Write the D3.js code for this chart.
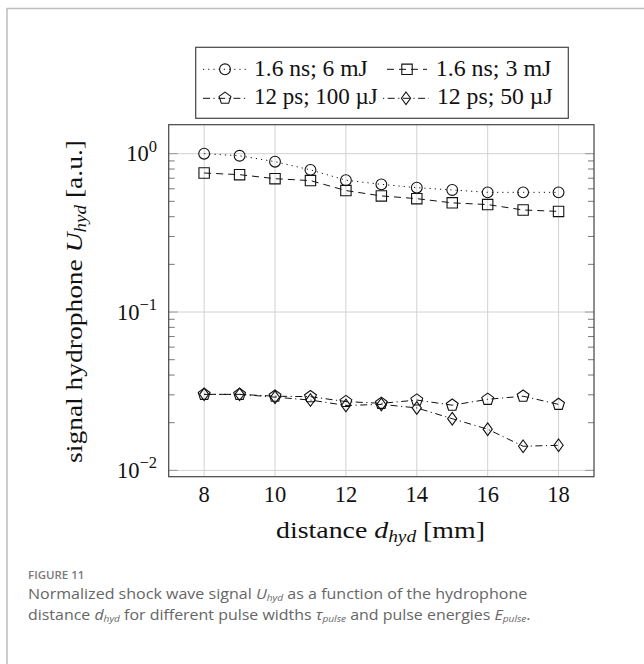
<!DOCTYPE html>
<html>
<head>
<meta charset="utf-8">
<script src="https://cdn.jsdelivr.net/npm/d3@7"></script>
<style>
  html, body { margin: 0; padding: 0; background: #fff; }
  svg { display: block; }
</style>
</head>
<body>
<script>
// ---------- data ----------
const distances = [8, 9, 10, 11, 12, 13, 14, 15, 16, 17, 18];
const ns6mJ   = [1.0, 0.97, 0.89, 0.79, 0.68, 0.64, 0.61, 0.59, 0.57, 0.57, 0.57];
const ns3mJ   = [0.755, 0.737, 0.695, 0.676, 0.585, 0.541, 0.52, 0.489, 0.477, 0.441, 0.432];
const ps100uJ = [0.0302, 0.0302, 0.0294, 0.0292, 0.0272, 0.0265, 0.0278, 0.0258, 0.0281, 0.0294, 0.0261];
const ps50uJ  = [0.0302, 0.0302, 0.0290, 0.0278, 0.0257, 0.0261, 0.0248, 0.0212, 0.0182, 0.0142, 0.0144];
const seriesLabels = ["1.6 ns; 6 mJ", "1.6 ns; 3 mJ", "12 ps; 100 µJ", "12 ps; 50 µJ"];
const xTicks = [8, 10, 12, 14, 16, 18];
const yTickExps = [0, -1, -2];

// ---------- layout ----------
const W = 644, H = 664;
const P = { left: 168.7, right: 594, top: 124.7, bottom: 476.7 };
const serif = "'Liberation Serif', 'Times New Roman', serif";
const sans = "'Open Sans', 'Noto Sans', sans-serif";

const svg = d3.select("body").append("svg").attr("width", W).attr("height", H);

// stretch a text horizontally around an anchor x so that it spans a target width
function fitX(sel, ax, target) {
  const w = sel.node().getBBox().width;
  const s = target / w;
  sel.attr("transform", `translate(${ax},0) scale(${s},1) translate(${-ax},0)`);
}

// outer frame (top + left)
svg.append("path").attr("d", `M7,664 V8.5 H644`).attr("fill", "none")
  .attr("stroke", "#bdbdbd").attr("stroke-width", 1.5);

const x = d3.scaleLinear().domain([7, 19]).range([P.left, P.right]);
const y = d3.scaleLog().domain([Math.pow(10, -2.040), Math.pow(10, 0.183)]).range([P.bottom, P.top]);

const g = svg.append("g");

// grid
g.selectAll(".gx").data(xTicks).join("line")
  .attr("x1", d => x(d)).attr("x2", d => x(d)).attr("y1", P.top).attr("y2", P.bottom)
  .attr("stroke", "#d2d2d2").attr("stroke-width", 1);
g.selectAll(".gy").data(yTickExps).join("line")
  .attr("x1", P.left).attr("x2", P.right).attr("y1", d => y(Math.pow(10, d))).attr("y2", d => y(Math.pow(10, d)))
  .attr("stroke", "#d2d2d2").attr("stroke-width", 1);

// minor ticks on y (both sides, inward)
const minors = [];
for (let e = -3; e <= 0; e++) for (let m = 2; m <= 9; m++) {
  const v = m * Math.pow(10, e);
  if (v > y.domain()[0] && v < y.domain()[1]) minors.push(v);
}
g.selectAll(".ml").data(minors).join("line")
  .attr("x1", P.left).attr("x2", P.left + 6).attr("y1", d => y(d)).attr("y2", d => y(d))
  .attr("stroke", "#555").attr("stroke-width", 0.8);
g.selectAll(".mr").data(minors).join("line")
  .attr("x1", P.right).attr("x2", P.right - 6).attr("y1", d => y(d)).attr("y2", d => y(d))
  .attr("stroke", "#555").attr("stroke-width", 0.8);
// major ticks
g.selectAll(".Ml").data(yTickExps).join("line")
  .attr("x1", P.left).attr("x2", P.left + 9).attr("y1", d => y(Math.pow(10, d))).attr("y2", d => y(Math.pow(10, d)))
  .attr("stroke", "#888").attr("stroke-width", 0.8);
g.selectAll(".Mr").data(yTickExps).join("line")
  .attr("x1", P.right).attr("x2", P.right - 9).attr("y1", d => y(Math.pow(10, d))).attr("y2", d => y(Math.pow(10, d)))
  .attr("stroke", "#888").attr("stroke-width", 0.8);

// frame
g.append("rect").attr("x", P.left).attr("y", P.top)
  .attr("width", P.right - P.left).attr("height", P.bottom - P.top)
  .attr("fill", "none").attr("stroke", "#444").attr("stroke-width", 1.2);

// x tick labels
g.selectAll(".xl").data(xTicks).join("text")
  .attr("x", d => x(d)).attr("y", 501.5).attr("text-anchor", "middle")
  .attr("font-family", serif).attr("font-size", 22.5).attr("fill", "#111")
  .text(d => d);

// y tick labels 10^e
yTickExps.forEach(e => {
  const t = g.append("text").attr("x", 157).attr("y", y(Math.pow(10, e)) + 7.5)
    .attr("text-anchor", "end").attr("font-family", serif).attr("font-size", 22.5).attr("fill", "#111");
  t.append("tspan").text("10");
  t.append("tspan").attr("dy", -9.5).attr("font-size", 16.5).text(e === 0 ? "0" : "−" + Math.abs(e));
});

// axis labels
const xlx = 380.5;
const xl = g.append("text").attr("x", xlx).attr("y", 538.5)
  .attr("text-anchor", "middle").attr("font-family", serif).attr("font-size", 23).attr("fill", "#111");
xl.append("tspan").text("distance ");
xl.append("tspan").attr("font-style", "italic").text("d");
xl.append("tspan").attr("font-style", "italic").attr("font-size", 16).attr("dy", 4).text("hyd");
xl.append("tspan").attr("dy", -4).text("  [mm]");
fitX(xl, xlx, 209);

const ylg = g.append("g").attr("transform", `translate(82,301.5) rotate(-90)`);
const yl = ylg.append("text").attr("x", 0).attr("y", 0)
  .attr("text-anchor", "middle").attr("font-family", serif).attr("font-size", 23).attr("fill", "#111");
yl.append("tspan").text("signal hydrophone ");
yl.append("tspan").attr("font-style", "italic").text("U");
yl.append("tspan").attr("font-style", "italic").attr("font-size", 16).attr("dy", 4).text("hyd");
yl.append("tspan").attr("dy", -4).text("  [a.u.]");
fitX(yl, 0, 323);

// ---------- series ----------
function pentagonPath(r) {
  const pts = d3.range(5).map(i => {
    const a = -Math.PI / 2 + i * 2 * Math.PI / 5;
    return [r * Math.cos(a), r * Math.sin(a)];
  });
  return "M" + pts.map(p => p.join(",")).join("L") + "Z";
}
const markers = {
  circle: "M5.4,0A5.4,5.4 0 1,1 -5.4,0A5.4,5.4 0 1,1 5.4,0Z",
  square: "M-5.2,-5.2H5.2V5.2H-5.2Z",
  pentagon: pentagonPath(6.2),
  diamond: "M0,-6.3L4.6,0L0,6.3L-4.6,0Z"
};
const series = [
  { values: ns6mJ,   dash: "1.2,4",          marker: "circle" },
  { values: ns3mJ,   dash: "7,5",            marker: "square" },
  { values: ps100uJ, dash: "7,3.5,1.2,3.5",  marker: "pentagon" },
  { values: ps50uJ,  dash: "1.2,3.5,7,3.5",  marker: "diamond" }
];
const line = d3.line().x(d => x(d[0])).y(d => y(d[1]));

series.forEach(s => {
  const pts = distances.map((d, i) => [d, s.values[i]]);
  g.append("path").datum(pts).attr("d", line).attr("fill", "none")
    .attr("stroke", "#111").attr("stroke-width", 1).attr("stroke-dasharray", s.dash);
  g.selectAll(null).data(pts).join("path")
    .attr("transform", d => `translate(${x(d[0])},${y(d[1])})`)
    .attr("d", markers[s.marker]).attr("fill", "none")
    .attr("stroke", "#111").attr("stroke-width", 1.1);
});

// ---------- legend ----------
const lg = svg.append("g");
lg.append("rect").attr("x", 195.7).attr("y", 47.3).attr("width", 372.6).attr("height", 71)
  .attr("fill", "#fff").attr("stroke", "#444").attr("stroke-width", 1.2);
const legendPos = [
  { lx: 203, rx: 247, ty: 254,   row: 69.3, tb: 76,    w: 114 },
  { lx: 387, rx: 427, ty: 435.7, row: 69.3, tb: 76,    w: 116 },
  { lx: 203, rx: 247, ty: 254,   row: 98.3, tb: 104,   w: 124 },
  { lx: 383, rx: 429, ty: 437,   row: 98.3, tb: 104,   w: 116 }
];
series.forEach((s, i) => {
  const p = legendPos[i];
  lg.append("line").attr("x1", p.lx).attr("x2", p.rx).attr("y1", p.row).attr("y2", p.row)
    .attr("stroke", "#111").attr("stroke-width", 1).attr("stroke-dasharray", s.dash);
  lg.append("path").attr("transform", `translate(${(p.lx + p.rx) / 2},${p.row})`)
    .attr("d", markers[s.marker]).attr("fill", "none").attr("stroke", "#111").attr("stroke-width", 1.1);
  const t = lg.append("text").attr("x", p.ty).attr("y", p.tb).attr("font-family", serif)
    .attr("font-size", 22.5).attr("fill", "#111").text(seriesLabels[i]);
  fitX(t, p.ty, p.w);
});

// ---------- caption ----------
svg.append("text").attr("x", 28).attr("y", 578.5).attr("font-family", sans)
  .attr("font-size", 11.5).attr("font-weight", 600).attr("fill", "#7a7a7a").text("FIGURE 11");
const c1 = svg.append("text").attr("x", 28).attr("y", 599).attr("font-family", sans)
  .attr("font-size", 15).attr("fill", "#666");
c1.append("tspan").text("Normalized shock wave signal ");
c1.append("tspan").attr("font-style", "italic").text("U");
c1.append("tspan").attr("font-style", "italic").attr("font-size", 9.5).attr("dy", 2).text("hyd");
c1.append("tspan").attr("dy", -2).text(" as a function of the hydrophone");
fitX(c1, 28, 500);
const c2 = svg.append("text").attr("x", 28).attr("y", 620).attr("font-family", sans)
  .attr("font-size", 15).attr("fill", "#666");
c2.append("tspan").text("distance ");
c2.append("tspan").attr("font-style", "italic").text("d");
c2.append("tspan").attr("font-style", "italic").attr("font-size", 9.5).attr("dy", 2).text("hyd");
c2.append("tspan").attr("dy", -2).text(" for different pulse widths ");
c2.append("tspan").attr("font-style", "italic").text("τ");
c2.append("tspan").attr("font-style", "italic").attr("font-size", 9.5).attr("dy", 2).text("pulse");
c2.append("tspan").attr("dy", -2).text(" and pulse energies ");
c2.append("tspan").attr("font-style", "italic").text("E");
c2.append("tspan").attr("font-style", "italic").attr("font-size", 9.5).attr("dy", 2).text("pulse");
c2.append("tspan").attr("dy", -2).text(".");
fitX(c2, 28, 503);
</script>
</body>
</html>
